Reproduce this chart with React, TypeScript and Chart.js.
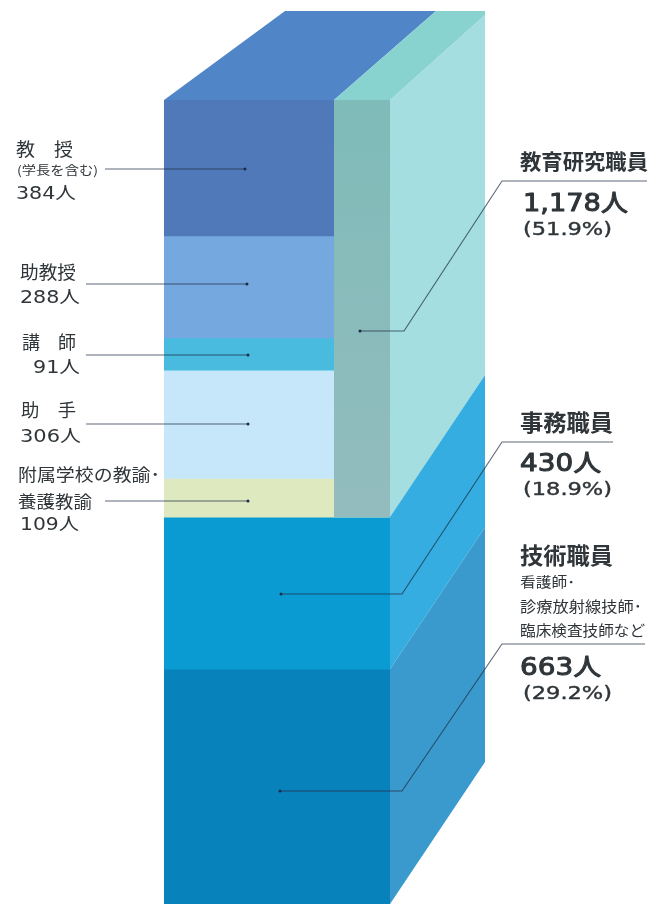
import React, { useEffect, useRef } from "react";
import { Chart, registerables } from "chart.js";

Chart.register(...registerables);

// Staff numbers, top of the column to the bottom.
const categories = ["教授", "助教授", "講師", "助手", "附属学校の教諭・養護教諭", "事務職員", "技術職員"];
const staffCounts = [384, 288, 91, 306, 109, 430, 663];
const frontColors = ["#4f79b8", "#74a8de", "#48bbdf", "#c5e7f9", "#dfe9bf", "#0a9bd2", "#0882ba"];

// Side wall groups: how many of the segments above belong to each group.
const groupNames = ["教育研究職員", "事務職員", "技術職員"];
const groupSpans = [5, 1, 1];
const sideColors = ["#a4dee1", "#35ade0", "#3a9acd"];

const SANS = '"DejaVu Sans", "Noto Sans CJK JP", sans-serif';
const CJK = '"Noto Sans CJK JP", sans-serif';
const INK = "#2f3539";

// text, left edge, drawn width, baseline, font size, weight, family, extra stroke
type Label = [string, number, number, number, number, number, string, number];
const labels: Label[] = [
  ["教　授", 16, 57, 156, 18, 400, CJK, 0],
  ["(学長を含む)", 17, 81, 175, 12, 400, CJK, 0],
  ["384人", 16, 60, 199, 17, 400, SANS, 0],
  ["助教授", 20, 56, 279, 18, 400, CJK, 0],
  ["288人", 20, 60, 303, 17, 400, SANS, 0],
  ["講　師", 22, 54, 349, 18, 400, CJK, 0],
  ["91人", 33, 47, 373, 17, 400, SANS, 0],
  ["助　手", 21, 55, 417, 18, 400, CJK, 0],
  ["306人", 20, 61, 442, 17, 400, SANS, 0],
  ["附属学校の教諭･", 18, 142, 481, 17, 400, CJK, 0],
  ["養護教諭", 18, 74, 508, 17, 400, CJK, 0],
  ["109人", 20, 59, 530, 17, 400, SANS, 0],
  ["教育研究職員", 520, 128, 169, 21, 700, CJK, 0],
  ["1,178人", 523, 105, 211, 24, 400, SANS, 1],
  ["(51.9%)", 523, 89, 235, 17, 400, SANS, 0.4],
  ["事務職員", 520, 93, 431, 23, 700, CJK, 0],
  ["430人", 520, 81, 471, 24, 400, SANS, 1],
  ["(18.9%)", 523, 89, 495, 17, 400, SANS, 0.4],
  ["技術職員", 520, 93, 564, 23, 700, CJK, 0],
  ["看護師･", 520, 55, 587, 14, 400, CJK, 0],
  ["診療放射線技師･", 520, 122, 612, 15, 400, CJK, 0],
  ["臨床検査技師など", 520, 125, 636, 15, 400, CJK, 0],
  ["663人", 520, 81, 675, 24, 400, SANS, 1],
  ["(29.2%)", 523, 89, 699, 17, 400, SANS, 0.4],
];

// Leader lines: the first point of each polyline carries the dot.
const leaders: [number, number][][] = [
  [[245, 169], [105, 169]],
  [[247, 284], [86, 284]],
  [[248, 355], [86, 355]],
  [[248, 424], [86, 424]],
  [[248, 501], [105, 501]],
  [[360, 331], [404, 331], [502, 181], [647, 181]],
  [[281, 594], [402, 594], [502, 442], [613, 442]],
  [[280, 791], [402, 791], [502, 644], [645, 644]],
];

// Box geometry relative to the plot area.
const STRIP_WIDTH = 56;
const SIDE_DEPTH = 95;
const TOP_RISE = 89;
const TOP_EDGE_RISE = 85;
const WALL_RISE = 142;

const boxPlugin = {
  id: "box",
  beforeDatasetsDraw(chart: any) {
    const { ctx, chartArea: a, scales } = chart;
    const y = scales.y;
    const right = a.right;
    const sx = right + SIDE_DEPTH;

    // Side walls, one per staff group.
    let index = 0;
    let from = 0;
    groupSpans.forEach((span, g) => {
      const sum = staffCounts.slice(index, index + span).reduce((p, c) => p + c, 0);
      const to = from + sum;
      const y0 = y.getPixelForValue(from);
      const y1 = y.getPixelForValue(to);
      const r0 = from === 0 ? TOP_EDGE_RISE : WALL_RISE;
      ctx.fillStyle = sideColors[g];
      ctx.beginPath();
      ctx.moveTo(right, y0);
      ctx.lineTo(sx, y0 - r0);
      ctx.lineTo(sx, y1 - WALL_RISE);
      ctx.lineTo(right, y1);
      ctx.closePath();
      ctx.fill();
      index += span;
      from = to;
    });

    // Top face: blue over the breakdown, teal over the strip.
    const top = a.top;
    const stripLeft = right - STRIP_WIDTH;
    const backY = top - TOP_RISE;
    ctx.fillStyle = "#5086c8";
    ctx.beginPath();
    ctx.moveTo(a.left, top);
    ctx.lineTo(a.left + 121, backY);
    ctx.lineTo(stripLeft + 102, backY);
    ctx.lineTo(stripLeft, top);
    ctx.closePath();
    ctx.fill();
    ctx.fillStyle = "#88d3d0";
    ctx.beginPath();
    ctx.moveTo(stripLeft, top);
    ctx.lineTo(stripLeft + 102, backY);
    ctx.lineTo(sx, backY);
    ctx.lineTo(sx, top - TOP_EDGE_RISE);
    ctx.lineTo(right, top);
    ctx.closePath();
    ctx.fill();
  },
  afterDatasetsDraw(chart: any) {
    const { ctx, chartArea: a, scales } = chart;
    const y = scales.y;

    // Front strip that runs down the education group.
    const educationTotal = staffCounts.slice(0, groupSpans[0]).reduce((p, c) => p + c, 0);
    const yEnd = y.getPixelForValue(educationTotal);
    const grad = ctx.createLinearGradient(0, a.top, 0, yEnd);
    grad.addColorStop(0, "#7fbbb8");
    grad.addColorStop(1, "#93bcbe");
    ctx.fillStyle = grad;
    ctx.fillRect(a.right - STRIP_WIDTH, a.top, STRIP_WIDTH, yEnd - a.top);

    // Leader lines with their end dots.
    ctx.save();
    ctx.lineWidth = 1.1;
    ctx.lineJoin = "round";
    ctx.strokeStyle = "rgba(30,45,70,0.72)";
    leaders.forEach((pts) => {
      ctx.beginPath();
      pts.forEach(([px, py], i) => (i ? ctx.lineTo(px, py) : ctx.moveTo(px, py)));
      ctx.stroke();
      ctx.fillStyle = "#1c2c48";
      ctx.beginPath();
      ctx.arc(pts[0][0], pts[0][1], 1.5, 0, Math.PI * 2);
      ctx.fill();
    });
    ctx.restore();

    // Text, fitted horizontally to each label's width.
    ctx.save();
    ctx.fillStyle = INK;
    ctx.strokeStyle = INK;
    ctx.lineJoin = "round";
    ctx.textBaseline = "alphabetic";
    ctx.textAlign = "left";
    labels.forEach(([text, x, w, base, size, weight, family, stroke]) => {
      ctx.font = `${weight} ${size}px ${family}`;
      const k = w / ctx.measureText(text).width;
      ctx.save();
      ctx.translate(x, base);
      ctx.scale(k, 1);
      ctx.fillText(text, 0, 0);
      if (stroke > 0) {
        ctx.lineWidth = stroke;
        ctx.strokeText(text, 0, 0);
      }
      ctx.restore();
    });
    ctx.restore();
  },
};

export default function App() {
  const ref = useRef<HTMLCanvasElement>(null);

  useEffect(() => {
    const total = staffCounts.reduce((p, c) => p + c, 0);
    const chart = new Chart(ref.current!, {
      type: "bar",
      data: {
        labels: ["職員数"],
        datasets: categories.map((name, i) => ({
          label: name,
          data: [staffCounts[i]],
          backgroundColor: frontColors[i],
          borderWidth: 0,
          barPercentage: 1,
          categoryPercentage: 1,
        })),
      },
      options: {
        responsive: false,
        animation: false,
        layout: { padding: { left: 164, right: 273, top: 100, bottom: 0 } },
        plugins: { legend: { display: false }, tooltip: { enabled: false }, title: { display: false } },
        scales: {
          x: { stacked: true, display: false },
          y: { stacked: true, display: false, reverse: true, min: 0, max: total },
        },
      },
      plugins: [boxPlugin],
    });
    return () => chart.destroy();
  }, []);

  return (
    <div style={{ position: "absolute", left: 0, top: 0, width: 663, height: 904, overflow: "hidden", background: "#fff" }}>
      <canvas ref={ref} width={663} height={904} style={{ display: "block" }} />
    </div>
  );
}
